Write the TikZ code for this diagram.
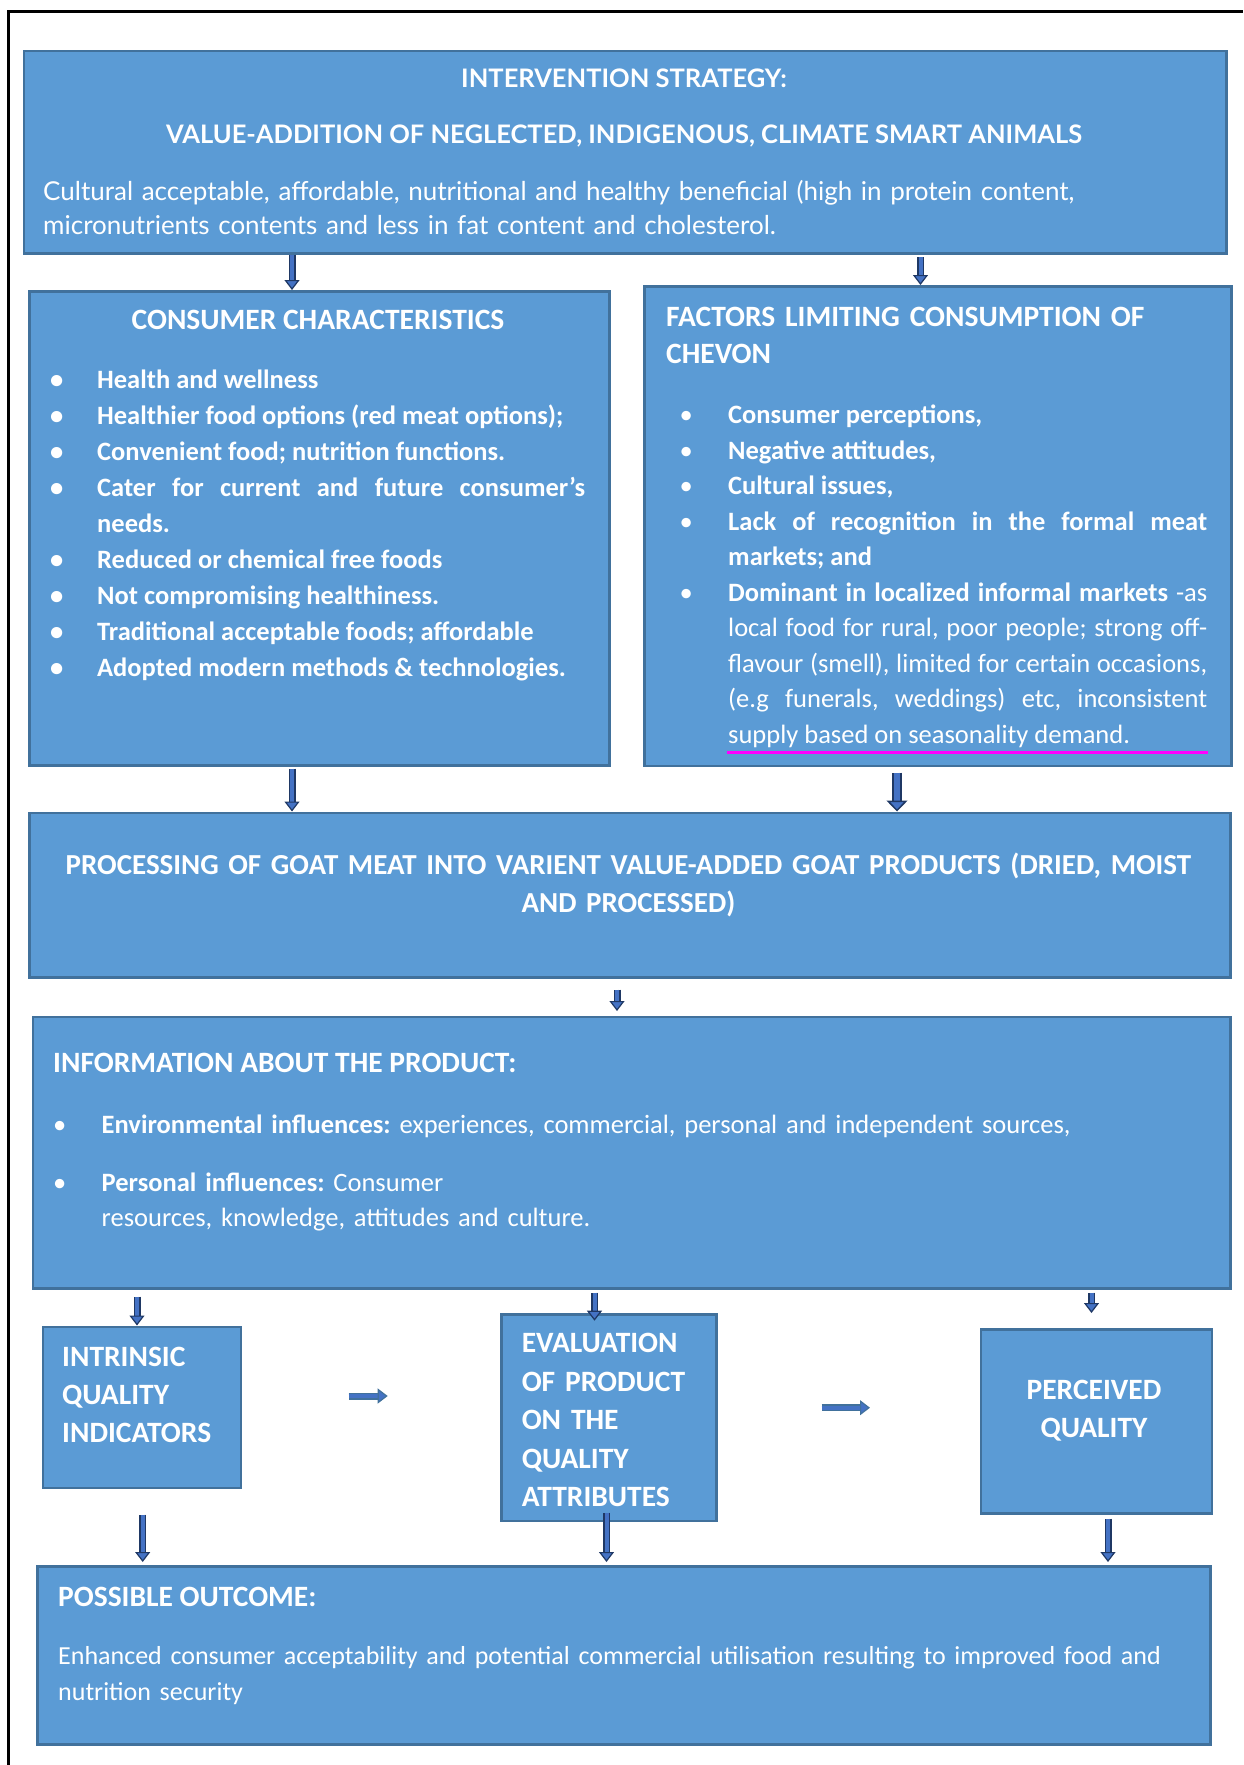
\documentclass[tikz,border=0pt]{standalone}
\usepackage{fontspec}
\setmainfont{Carlito}
\newfontfamily\headfont{Lato}
\usetikzlibrary{positioning,arrows.meta}
\frenchspacing

\definecolor{boxblue}{HTML}{5B9BD5}
\definecolor{boxline}{HTML}{41719C}
\definecolor{arrowfill}{HTML}{4472C4}
\definecolor{arrowline}{HTML}{1F3864}
\definecolor{markline}{HTML}{FF00FF}

% bullet item with hanging text
\newcommand\dotitem[2][47pt]{\noindent\hangindent=#1\hangafter=1\makebox[#1][l]{\textbullet}#2\par}

\tikzset{
  box/.style={rectangle, fill=boxblue, draw=boxline, line width=2.5pt, anchor=north west, inner sep=0pt},
  boxtext/.style={text=white, inner sep=0pt, anchor=base west, align=left},
  heading/.style={boxtext, font=\bfseries\fontsize{29.5}{38}\selectfont},
  flow/.style={draw=arrowline, line width=1.5pt, double=arrowfill, double distance=4pt,
    -{Triangle[width=15pt, length=10pt, fill=arrowfill, line width=1.2pt]}},
  bigflow/.style={flow, double distance=6pt, line width=2pt,
    -{Triangle[width=21pt, length=11pt, fill=arrowfill, line width=1.5pt]}},
}

\begin{document}
\begin{tikzpicture}[x=1pt, y=-1pt]
  \useasboundingbox (0,0) rectangle (1243,1765);
  \draw[line width=2.5pt] (8.7,1765) -- (8.7,11.7) -- (1243,11.7);

  % boxes
  \node[box, minimum width=1202.5pt, minimum height=202.5pt] (strategy) at (22.5,49.5) {};
  \node[box, minimum width=580pt, minimum height=474pt] (consumer) at (28,290) {};
  \node[box, minimum width=587pt, minimum height=479.5pt] (limits) at (643,285) {};
  \node[box, minimum width=1201pt, minimum height=164.5pt] (processing) at (28,811.5) {};
  \node[box, minimum width=1197.5pt, minimum height=271.5pt] (information) at (31.5,1015.5) {};
  \node[box, minimum width=198pt, minimum height=161pt] (intrinsic) at (41.5,1325.5) {};
  \node[box, minimum width=215pt, minimum height=206.5pt] (evaluation) at (500,1313) {};
  \node[box, minimum width=231pt, minimum height=184pt] (perceived) at (979.5,1328) {};
  \node[box, minimum width=1173pt, minimum height=178pt] (outcome) at (36,1565) {};

  % texts
  \node[boxtext, anchor=base, font=\headfont\bfseries\fontsize{25.5}{28}\selectfont] (strategy title) at (624,87.5) {INTERVENTION STRATEGY:};
  \node[boxtext, anchor=base, font=\headfont\bfseries\fontsize{25.5}{28}\selectfont] (strategy sub) at (624,143.5) {VALUE-ADDITION OF NEGLECTED, INDIGENOUS, CLIMATE SMART ANIMALS};
  \node[boxtext, text width=1160pt, font=\headfont\fontsize{26}{33.5}\selectfont] (strategy body) at (43,200.5)
    {Cultural acceptable, affordable, nutritional and healthy beneficial (high in protein content,\\
     micronutrients contents and less in fat content and cholesterol.};

  \node[heading, anchor=base] (consumer title) at (318,329.5) {CONSUMER CHARACTERISTICS};
  \node[boxtext, text width=535pt, align=justify, font=\bfseries\fontsize{26.5}{36}\selectfont] (consumer list) at (50,388.5) {%
    \dotitem{Health and wellness}
    \dotitem{Healthier food options (red meat options);}
    \dotitem{Convenient food; nutrition functions.}
    \dotitem{Cater for current and future consumer's\linebreak needs.}
    \dotitem{Reduced or chemical free foods}
    \dotitem{Not compromising healthiness.}
    \dotitem{Traditional acceptable foods; affordable}
    \dotitem{Adopted modern methods \& technologies.}};

  \node[heading, text width=540pt, font=\bfseries\fontsize{29.5}{37.5}\selectfont] (limits title) at (666,326)
    {FACTORS LIMITING CONSUMPTION OF\\CHEVON};
  \node[boxtext, text width=527.5pt, align=justify, font=\fontsize{26.5}{35.5}\selectfont] (limits list) at (679.5,423.5) {%
    \dotitem[48.5pt]{\textbf{Consumer perceptions,}}
    \dotitem[48.5pt]{\textbf{Negative attitudes,}}
    \dotitem[48.5pt]{\textbf{Cultural issues,}}
    \dotitem[48.5pt]{\textbf{Lack of recognition in the formal meat\linebreak markets; and}}
    \dotitem[48.5pt]{\textbf{Dominant in localized informal markets} -as\linebreak
      local food for rural, poor people; strong off-\linebreak
      flavour (smell), limited for certain occasions,\linebreak
      (e.g funerals, weddings) etc, inconsistent\linebreak
      supply based on seasonality demand.}};
  \draw[markline, line width=3pt] (726.5,752.5) -- (1208,752.5);

  \node[heading, anchor=base, text width=1180pt, align=center, font=\bfseries\fontsize{29}{38}\selectfont] (processing title) at (628.5,874.5)
    {PROCESSING OF GOAT MEAT INTO VARIENT VALUE-ADDED GOAT PRODUCTS (DRIED, MOIST\\AND PROCESSED)};

  \node[heading] (information title) at (53,1072.5) {INFORMATION ABOUT THE PRODUCT:};
  \node[boxtext, text width=1150pt, font=\fontsize{26.5}{35}\selectfont] (information list) at (53,1133.5) {%
    \dotitem[48.5pt]{\textbf{Environmental influences:} experiences, commercial, personal and independent sources,}
    \vspace{23pt}
    \dotitem[48.5pt]{\textbf{Personal influences:} Consumer\linebreak resources, knowledge, attitudes and culture.}};

  \node[heading, text width=170pt] (intrinsic text) at (62,1366.5)
    {INTRINSIC\\QUALITY\\INDICATORS};
  \node[heading, text width=185pt, font=\bfseries\fontsize{29.5}{38.5}\selectfont] (evaluation text) at (521.6,1352.5)
    {EVALUATION\\OF PRODUCT\\ON THE\\QUALITY\\ATTRIBUTES};
  \node[heading, anchor=base, text width=220pt, align=center] (perceived text) at (1094,1399.5)
    {PERCEIVED\\QUALITY};

  \node[heading] (outcome title) at (58,1606) {POSSIBLE OUTCOME:};
  \node[boxtext, text width=1130pt, font=\fontsize{26}{35.5}\selectfont] (outcome body) at (58,1664.5)
    {Enhanced consumer acceptability and potential commercial utilisation resulting to improved food and\\nutrition security};

  % arrows
  \draw[flow] (strategy.south -| 292,0) -- (consumer.north -| 292,0);
  \draw[flow, shorten <=2.5pt] (strategy.south -| 920.5,0) -- (limits.north -| 920.5,0);
  \draw[flow, shorten <=2pt] (consumer.south -| 292,0) -- (processing.north -| 292,0);
  \draw[bigflow, shorten <=5.5pt] (limits.south -| 897,0) -- (processing.north -| 897,0);
  \draw[flow, shorten <=11pt, shorten >=4.5pt] (processing.south -| 617,0) -- (information.north -| 617,0);
  \draw[flow, shorten <=7pt] (information.south -| 137,0) -- (intrinsic.north -| 137,0);
  \draw[flow, shorten <=3pt, shorten >=-7.7pt] (information.south -| 594.5,0) -- (evaluation.north -| 594.5,0);
  \draw[flow, shorten <=3pt, shorten >=15pt] (information.south -| 1091.5,0) -- (perceived.north -| 1091.5,0);
  \draw[flow, shorten <=25.5pt, shorten >=3pt] (intrinsic.south -| 142.7,0) -- (outcome.north -| 142.7,0);
  \draw[flow, shorten <=-9.5pt, shorten >=3pt] (evaluation.south -| 606.5,0) -- (outcome.north -| 606.5,0);
  \draw[flow, shorten <=4pt, shorten >=3pt] (perceived.south -| 1108,0) -- (outcome.north -| 1108,0);
  \draw[flow, draw=boxline, shorten <=106.5pt, shorten >=112.3pt] (intrinsic.east |- 0,1396) -- (evaluation.west |- 0,1396);
  \draw[flow, draw=boxline, shorten <=104pt, shorten >=109.5pt] (evaluation.east |- 0,1407.7) -- (perceived.west |- 0,1407.7);
\end{tikzpicture}
\end{document}
